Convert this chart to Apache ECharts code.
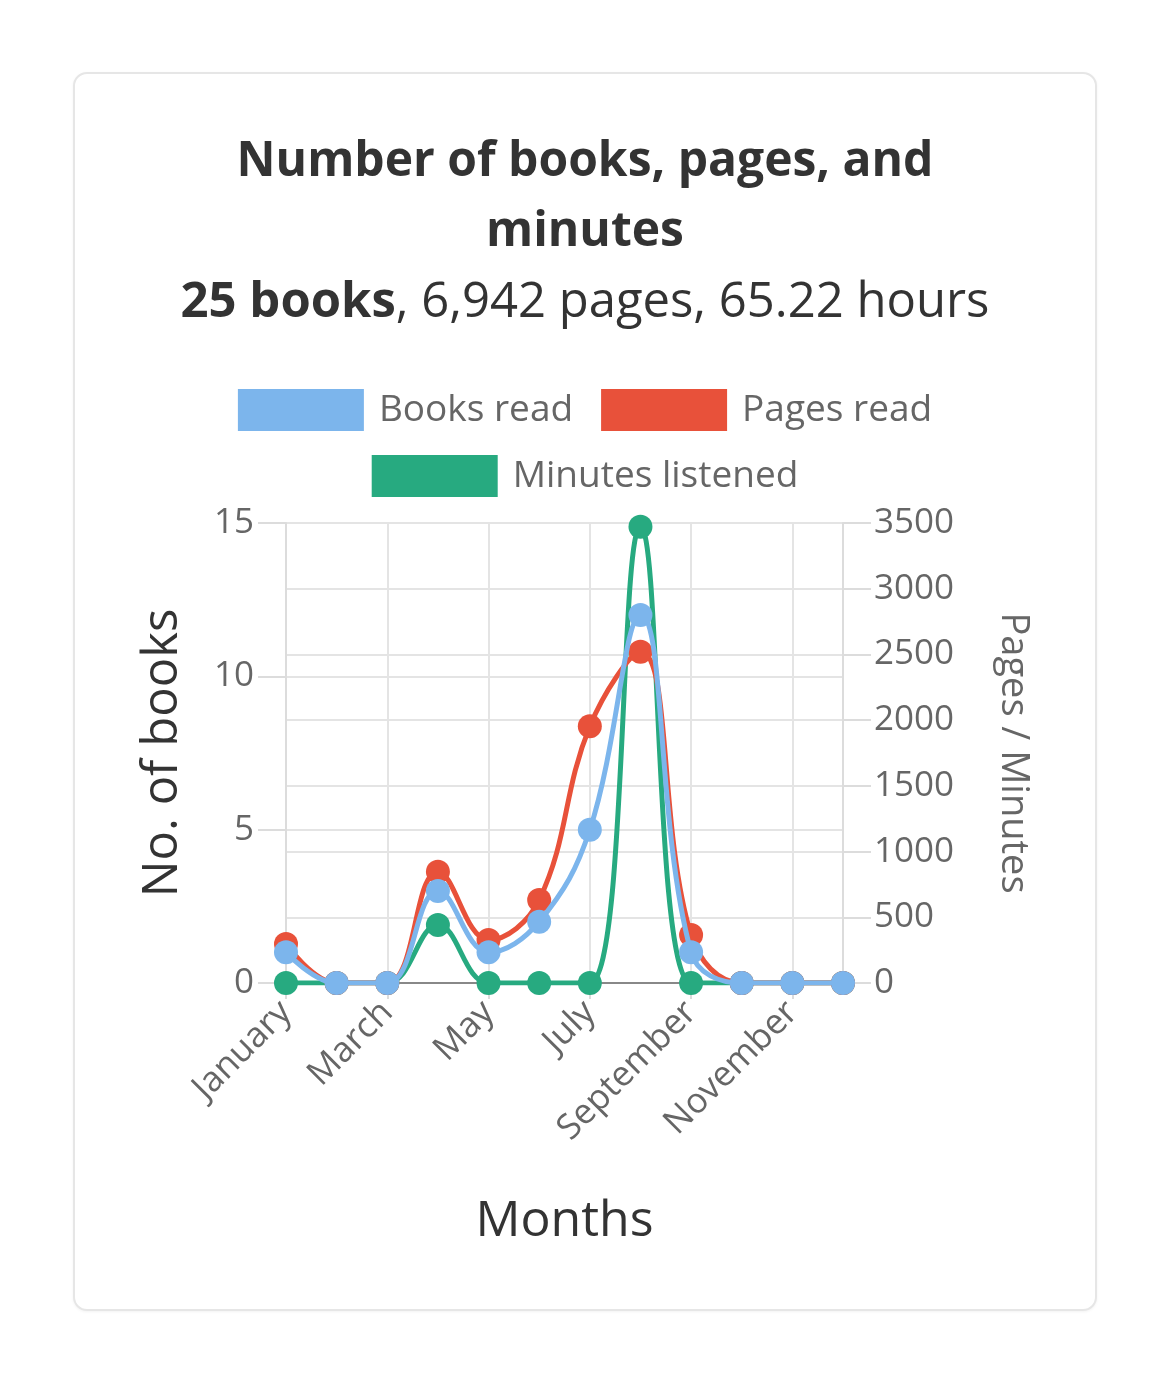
<!DOCTYPE html>
<html>
<head>
<meta charset="utf-8">
<script src="https://cdn.jsdelivr.net/npm/echarts@6/dist/echarts.min.js"></script>
<style>
  html, body { margin: 0; padding: 0; background: #ffffff; }
  #card {
    position: absolute; left: 73px; top: 72px; width: 1020px; height: 1235px;
    border: 2px solid #e6e6e6; border-radius: 14px; background: #fff;
    box-shadow: 0 1px 3px rgba(0,0,0,0.05);
  }
  #chart { position: absolute; left: 0; top: 0; width: 1170px; height: 1389px; }
</style>
</head>
<body>
<div id="card"></div>
<div id="chart"></div>
<script>
const months = ["January","February","March","April","May","June","July","August","September","October","November","December"];
const booksRead = [1, 0, 0, 3, 1, 2, 5, 12, 1, 0, 0, 0];
const pagesRead = [297, 0, 0, 847, 327, 632, 1953, 2521, 365, 0, 0, 0];
const minutesListened = [0, 0, 0, 441, 0, 0, 0, 3472, 0, 0, 0, 0];
const leftTicks = { min: 0, max: 15, interval: 5 };
const rightTicks = { min: 0, max: 3500, interval: 500 };

const FONT = "'Open Sans', sans-serif";
const chart = echarts.init(document.getElementById('chart'), null, { renderer: 'canvas' });
const gridColor = '#e4e4e4';
const axisGray = '#dcdcdc';
const lineW = 5;
const symSize = 24;
const titleStyle = { fontFamily: FONT, fontSize: 48, fontWeight: 'bold', color: '#333', lineHeight: 70 };
const legendText = { fontFamily: FONT, fontSize: 37, color: '#666', padding: [0, 0, 0, 10] };

chart.setOption({
  textStyle: { fontFamily: FONT },
  title: [
    { text: 'Number of books, pages, and', left: 'center', top: 127, padding: 0, textStyle: titleStyle },
    { text: 'minutes', left: 'center', top: 197, padding: 0, textStyle: titleStyle },
    {
      text: '{b|25 books}, 6,942 pages, 65.22 hours',
      left: 'center', top: 268, padding: 0,
      textStyle: {
        fontFamily: FONT, fontSize: 49, fontWeight: 'normal', color: '#333', lineHeight: 70,
        rich: { b: { fontFamily: FONT, fontSize: 49, fontWeight: 'bold', color: '#333', lineHeight: 70 } }
      }
    }
  ],
  legend: [
    {
      data: ['Books read', 'Pages read'],
      top: 389, left: 'center', padding: 0,
      itemWidth: 126, itemHeight: 42, itemGap: 28, icon: 'rect',
      textStyle: legendText
    },
    {
      data: ['Minutes listened'],
      top: 455, left: 'center', padding: 0,
      itemWidth: 126, itemHeight: 42, itemGap: 28, icon: 'rect',
      textStyle: legendText
    }
  ],
  grid: { left: 286, right: 327, top: 523, bottom: 406, containLabel: false },
  xAxis: {
    type: 'category', data: months, boundaryGap: false,
    name: 'Months', nameLocation: 'middle', nameGap: 214,
    nameTextStyle: { fontFamily: FONT, fontSize: 50, color: '#333' },
    axisLine: { show: true, lineStyle: { color: '#888', width: 2 } },
    axisTick: { show: true, interval: 1, length: 16, lineStyle: { color: axisGray, width: 2 } },
    axisLabel: { interval: 1, rotate: 45, fontFamily: FONT, fontSize: 35, color: '#666', margin: 24 },
    splitLine: { show: true, interval: 1, lineStyle: { color: gridColor, width: 2 } }
  },
  yAxis: [
    {
      type: 'value', position: 'left', min: leftTicks.min, max: leftTicks.max, interval: leftTicks.interval,
      name: 'No. of books', nameLocation: 'middle', nameGap: 98, nameRotate: 90,
      nameTextStyle: { fontFamily: FONT, fontSize: 49, color: '#333' },
      axisLine: { show: true, lineStyle: { color: axisGray, width: 2 } },
      axisTick: { show: true, length: 28, lineStyle: { color: axisGray, width: 2 } },
      axisLabel: { fontFamily: FONT, fontSize: 35, color: '#666', margin: 32 },
      splitLine: { show: true, lineStyle: { color: gridColor, width: 2 } }
    },
    {
      type: 'value', position: 'right', min: rightTicks.min, max: rightTicks.max, interval: rightTicks.interval,
      name: 'Pages / Minutes', nameLocation: 'middle', nameGap: 151, nameRotate: -90,
      nameTextStyle: { fontFamily: FONT, fontSize: 38, color: '#666' },
      axisLine: { show: true, lineStyle: { color: axisGray, width: 2 } },
      axisTick: { show: true, length: 28, lineStyle: { color: axisGray, width: 2 } },
      axisLabel: { fontFamily: FONT, fontSize: 35, color: '#666', margin: 31, formatter: v => String(v) },
      splitLine: { show: true, lineStyle: { color: gridColor, width: 2 } }
    }
  ],
  series: [
    {
      name: 'Minutes listened', type: 'line', yAxisIndex: 1, data: minutesListened,
      smooth: 0.4, symbol: 'circle', symbolSize: symSize, showAllSymbol: true,
      color: '#27aa80', lineStyle: { width: lineW, color: '#27aa80' }, itemStyle: { color: '#27aa80' }, z: 2
    },
    {
      name: 'Pages read', type: 'line', yAxisIndex: 1, data: pagesRead,
      smooth: 0.4, symbol: 'circle', symbolSize: symSize, showAllSymbol: true,
      color: '#e8513a', lineStyle: { width: lineW, color: '#e8513a' }, itemStyle: { color: '#e8513a' }, z: 3
    },
    {
      name: 'Books read', type: 'line', yAxisIndex: 0, data: booksRead,
      smooth: 0.4, symbol: 'circle', symbolSize: symSize, showAllSymbol: true,
      color: '#7cb5ec', lineStyle: { width: lineW, color: '#7cb5ec' }, itemStyle: { color: '#7cb5ec' }, z: 4
    }
  ],
  animation: false
});
</script>
</body>
</html>
